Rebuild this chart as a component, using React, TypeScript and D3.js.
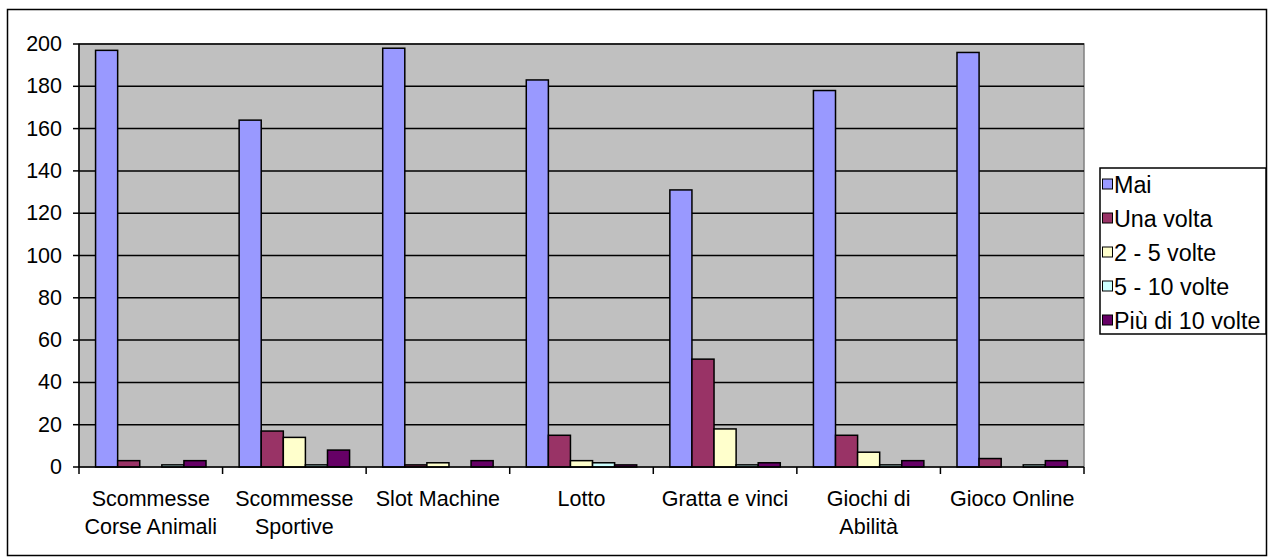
import React from "react";
import * as d3 from "d3";

const categories = [
  "Scommesse Corse Animali",
  "Scommesse Sportive",
  "Slot Machine",
  "Lotto",
  "Gratta e vinci",
  "Giochi di Abilità",
  "Gioco Online",
];
const categoryLines = [
  ["Scommesse", "Corse Animali"],
  ["Scommesse", "Sportive"],
  ["Slot Machine"],
  ["Lotto"],
  ["Gratta e vinci"],
  ["Giochi di", "Abilità"],
  ["Gioco Online"],
];
const seriesNames = ["Mai", "Una volta", "2 - 5 volte", "5 - 10 volte", "Più di 10 volte"];
const mai = [197, 164, 198, 183, 131, 178, 196];
const unaVolta = [3, 17, 1, 15, 51, 15, 4];
const dueCinque = [0, 14, 2, 3, 18, 7, 0];
const cinqueDieci = [1, 1, 0, 2, 1, 1, 1];
const piuDieci = [3, 8, 3, 1, 2, 3, 3];
const seriesValues = [mai, unaVolta, dueCinque, cinqueDieci, piuDieci];
const seriesColors = ["#9999FF", "#993366", "#FFFFCC", "#CCFFFF", "#660066"];
const yTicks = [0, 20, 40, 60, 80, 100, 120, 140, 160, 180, 200];

const W = 1269;
const H = 558;
const plot = { left: 79, top: 44, right: 1084, bottom: 467 };
const font = "'Liberation Sans', Arial, sans-serif";
const fs = 21.5;
const legendFs = 23.3;

export default function App() {
  const x0 = d3
    .scaleBand<number>()
    .domain(d3.range(categories.length))
    .range([plot.left, plot.right])
    .paddingInner(0)
    .paddingOuter(0);
  const x1 = d3
    .scaleBand<number>()
    .domain(d3.range(seriesNames.length))
    .range([0, x0.bandwidth()])
    .paddingOuter(0.75)
    .paddingInner(0);
  const y = d3.scaleLinear().domain([0, 200]).range([plot.bottom, plot.top]);

  return (
    <svg
      width={W}
      height={H}
      style={{ position: "absolute", left: 0, top: 0, background: "#fff" }}
      fontFamily={font}
    >
      <rect x={7.5} y={9.5} width={1259} height={546} fill="#fff" stroke="#000" strokeWidth={1.5} />
      <rect
        x={plot.left}
        y={plot.top}
        width={plot.right - plot.left}
        height={plot.bottom - plot.top}
        fill="#C0C0C0"
        stroke="#808080"
        strokeWidth={1.5}
      />
      {yTicks.map((t) => (
        <g key={t}>
          {t > 0 && (
            <line x1={plot.left} x2={plot.right} y1={y(t)} y2={y(t)} stroke="#000" strokeWidth={1.5} />
          )}
          <line x1={plot.left - 6} x2={plot.left} y1={y(t)} y2={y(t)} stroke="#000" strokeWidth={1.5} />
          <text x={62} y={y(t)} textAnchor="end" dominantBaseline="central" fontSize={fs} fill="#000">
            {t}
          </text>
        </g>
      ))}
      {categories.map((c, ci) => (
        <g key={c}>
          {seriesValues.map((vals, si) =>
            vals[ci] > 0 ? (
              <rect
                key={si}
                x={(x0(ci) as number) + (x1(si) as number)}
                y={y(vals[ci])}
                width={x1.bandwidth()}
                height={y(0) - y(vals[ci])}
                fill={seriesColors[si]}
                stroke="#000"
                strokeWidth={1.5}
              />
            ) : null
          )}
        </g>
      ))}
      <line x1={plot.left} x2={plot.left} y1={plot.top} y2={plot.bottom} stroke="#000" strokeWidth={1.5} />
      <line x1={plot.left} x2={plot.right} y1={plot.bottom} y2={plot.bottom} stroke="#000" strokeWidth={1.5} />
      {d3.range(categories.length + 1).map((i) => {
        const xx = plot.left + i * x0.step();
        return <line key={i} x1={xx} x2={xx} y1={plot.bottom} y2={plot.bottom + 7} stroke="#000" strokeWidth={1.5} />;
      })}
      {categoryLines.map((lines, ci) => (
        <text
          key={ci}
          x={(x0(ci) as number) + x0.bandwidth() / 2}
          textAnchor="middle"
          fontSize={fs}
          fill="#000"
        >
          {lines.map((l, li) => (
            <tspan key={li} x={(x0(ci) as number) + x0.bandwidth() / 2} y={506 + li * 28}>
              {l}
            </tspan>
          ))}
        </text>
      ))}
      <rect x={1100} y={168} width={166} height={166} fill="#fff" stroke="#000" strokeWidth={1.5} />
      {seriesNames.map((s, i) => {
        const cy = 184 + i * 34;
        return (
          <g key={s}>
            <rect x={1102.5} y={cy - 5} width={10} height={10} fill={seriesColors[i]} stroke="#000" strokeWidth={1} />
            <text x={1114} y={cy + 1} dominantBaseline="central" fontSize={legendFs} fill="#000">
              {s}
            </text>
          </g>
        );
      })}
    </svg>
  );
}
